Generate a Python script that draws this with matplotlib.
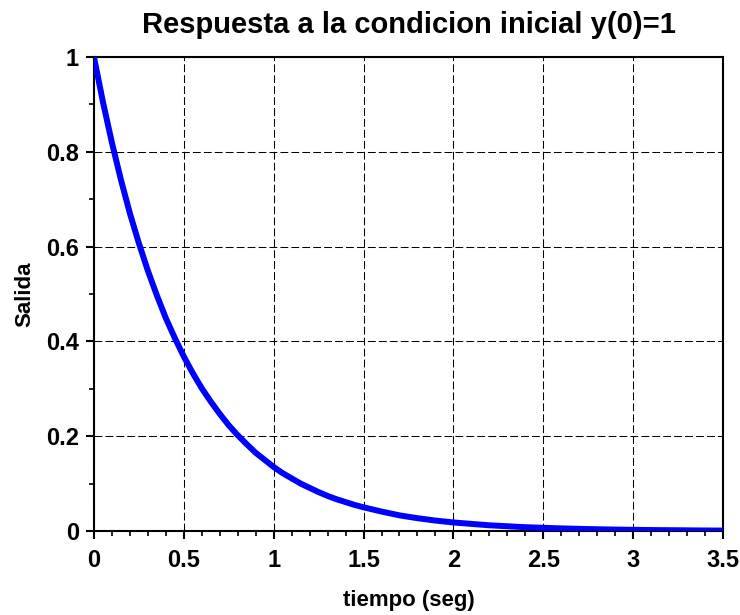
import matplotlib.pyplot as plt
from matplotlib.ticker import MultipleLocator

plt.rcParams['font.family'] = ['Liberation Sans', 'DejaVu Sans']
plt.rcParams['font.weight'] = 'bold'

# tiempo (seg) y salida
tiempo = [0.0, 0.05, 0.1, 0.15, 0.2, 0.25, 0.3, 0.35, 0.4, 0.45,
          0.5, 0.55, 0.6, 0.65, 0.7, 0.75, 0.8, 0.85, 0.9, 0.95,
          1.0, 1.05, 1.1, 1.15, 1.2, 1.25, 1.3, 1.35, 1.4, 1.45,
          1.5, 1.6, 1.7, 1.8, 1.9, 2.0, 2.1, 2.2, 2.3, 2.4,
          2.5, 2.6, 2.7, 2.8, 2.9, 3.0, 3.1, 3.2, 3.3, 3.4, 3.5]
salida = [1.0, 0.905, 0.819, 0.741, 0.670, 0.607, 0.549, 0.497, 0.449, 0.407,
          0.368, 0.333, 0.301, 0.273, 0.247, 0.223, 0.202, 0.183, 0.165, 0.150,
          0.135, 0.122, 0.111, 0.100, 0.091, 0.082, 0.074, 0.067, 0.061, 0.055,
          0.050, 0.041, 0.033, 0.027, 0.022, 0.018, 0.015, 0.012, 0.010, 0.008,
          0.0067, 0.0055, 0.0045, 0.0037, 0.003, 0.0025, 0.002, 0.0017, 0.0014, 0.0011, 0.0009]

xticks = [0, 0.5, 1, 1.5, 2, 2.5, 3, 3.5]
xticklabels = ['0', '0.5', '1', '1.5', '2', '2.5', '3', '3.5']
yticks = [0, 0.2, 0.4, 0.6, 0.8, 1]
yticklabels = ['0', '0.2', '0.4', '0.6', '0.8', '1']

fig = plt.figure(figsize=(7.4, 6.15), dpi=100)
ax = fig.add_axes([0.127, 0.1366, 0.850, 0.7706])

ax.plot(tiempo, salida, color='#0000ff', linewidth=4.3, solid_joinstyle='round', zorder=3)

ax.set_xlim(0, 3.5)
ax.set_ylim(0, 1)
ax.set_xticks(xticks)
ax.set_xticklabels(xticklabels, fontsize=17, fontweight='bold')
ax.set_yticks(yticks)
ax.set_yticklabels(yticklabels, fontsize=17, fontweight='bold')
ax.xaxis.set_minor_locator(MultipleLocator(0.1))
ax.yaxis.set_minor_locator(MultipleLocator(0.1))
ax.tick_params(which='major', direction='out', length=5.8, width=1.5)
ax.tick_params(axis='x', which='major', pad=7)
ax.tick_params(axis='y', which='major', pad=5)
ax.tick_params(which='minor', direction='out', length=3.6, width=1.2)
ax.tick_params(top=False, right=False, which='both')
for s in ax.spines.values():
    s.set_linewidth(1.5)

ax.grid(True, which='major', color='black', linestyle=(0, (7.5, 3)), linewidth=0.75)

ax.set_title('Respuesta a la condicion inicial y(0)=1', fontsize=21, fontweight='bold', pad=17)
ax.set_xlabel('tiempo (seg)', fontsize=16, fontweight='bold', labelpad=13)
ax.set_ylabel('Salida', fontsize=16, fontweight='bold', labelpad=8)

plt.savefig('out.png', dpi=100)
